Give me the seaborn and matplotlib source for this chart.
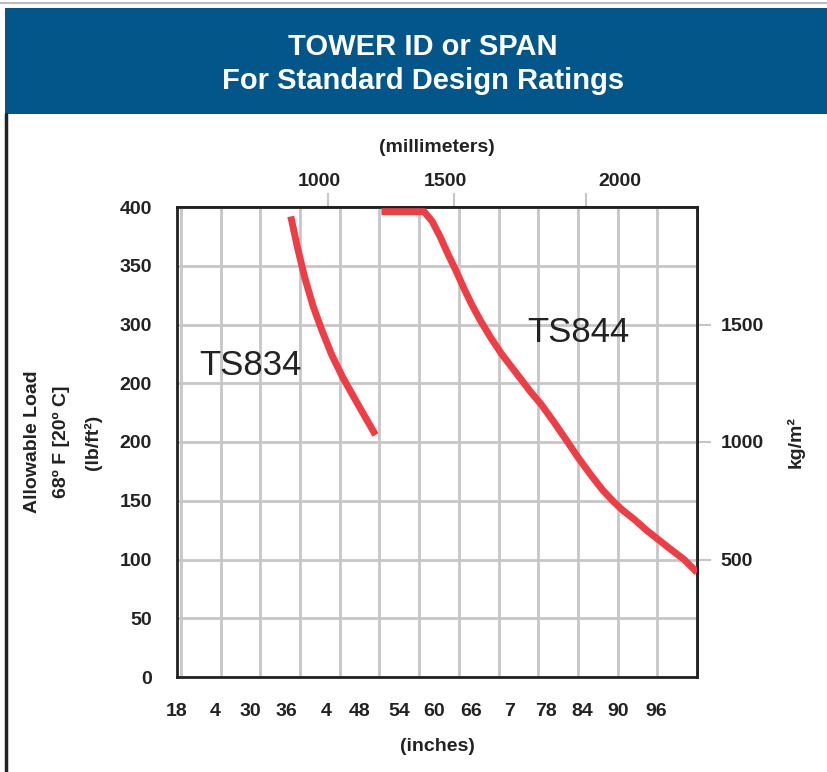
import pandas as pd
import matplotlib
matplotlib.use("Agg")
import matplotlib.pyplot as plt
from matplotlib.lines import Line2D
from matplotlib.patches import Rectangle
import seaborn as sns

# Data (span in inches, allowable load in lb/ft2)
ts834_span = [34.6, 35.55, 36.7, 37.95, 39.3, 40.8, 42.45, 44.55, 47.4]
ts834_load = [392, 367, 340, 316, 295, 274, 255, 234, 206]

ts844_span = [48.3, 54.75, 55.95, 57.15, 58.35, 59.55, 60.75, 61.95, 63.3, 64.8,
              66.45, 67.95, 69.45, 70.8, 72.45, 74.25, 76.2, 78.0, 79.95, 81.75,
              83.25, 84.75, 86.55, 88.35, 90.15, 91.95, 94.05, 96.0]
ts844_load = [396, 396, 388, 375, 360, 346, 331, 317, 303, 289,
              275, 264, 253, 243, 232, 218, 202, 187, 172, 159,
              150, 142, 134, 125, 117, 109, 100, 89]

# grid positions (inches) and the printed labels, which drift off the grid
x_grid = list(range(18, 97, 6))
x_label_pos = [17.4, 23.1, 28.5, 33.9, 39.9, 45.0, 51.0, 56.25, 61.8, 67.65,
               73.2, 78.6, 84.15, 89.85]
x_labels = ['18', '4', '30', '36', '4', '48', '54', '60', '66', '7',
            '78', '84', '90', '96']
y_ticks = list(range(0, 401, 50))
y_labels = ['0', '50', '100', '150', '200', '200', '300', '350', '400']
kg_ticks = [500, 1000, 1500]
mm_tick_pos = [40.2, 59.25, 79.2]
mm_label_pos = [38.85, 57.9, 84.3]
mm_labels = ['1000', '1500', '2000']

df = pd.concat([
    pd.DataFrame({'span': ts834_span, 'load': ts834_load, 'model': 'TS834'}),
    pd.DataFrame({'span': ts844_span, 'load': ts844_load, 'model': 'TS844'}),
])

sns.set_style("white")
plt.rcParams['font.family'] = ['Liberation Sans', 'DejaVu Sans']

RED = '#EE3E45'
BLUE = '#03568A'
GRID = '#c6c6c6'
TXT = '#222222'

fig = plt.figure(figsize=(8.28, 7.72), dpi=100)

# header band + frame
fig.add_artist(Rectangle((5 / 828, 1 - 114 / 772), 1, 106 / 772,
                         transform=fig.transFigure, color=BLUE, lw=0))
fig.add_artist(Line2D([0, 1], [1 - 3 / 772] * 2, transform=fig.transFigure,
                      color='#bbbbbb', lw=1.5))
fig.add_artist(Line2D([6.5 / 828] * 2, [0, 1 - 114 / 772], transform=fig.transFigure,
                      color=TXT, lw=2.5))
fig.text(423 / 828, 1 - 47 / 772, 'TOWER ID or SPAN', color='white',
         fontsize=21, fontweight='bold', ha='center', va='center')
fig.text(423 / 828, 1 - 81 / 772, 'For Standard Design Ratings', color='white',
         fontsize=21, fontweight='bold', ha='center', va='center')

ax = fig.add_axes([177 / 828, 1 - 677 / 772, 520 / 828, 470 / 772])

sns.lineplot(data=df, x='span', y='load', hue='model',
             palette={'TS834': RED, 'TS844': RED}, estimator=None, sort=False,
             legend=False, lw=5, solid_capstyle='butt', solid_joinstyle='round',
             ax=ax, zorder=3)

ax.set_xlim(18, 96)
ax.set_ylim(0, 400)
ax.set_xticks(x_grid, labels=[''] * len(x_grid))
ax.set_xticks(x_label_pos, labels=x_labels, minor=True)
ax.set_yticks(y_ticks, labels=y_labels)
ax.grid(True, which='major', color=GRID, lw=2)
ax.set_axisbelow(True)
for s in ax.spines.values():
    s.set_color(TXT)
    s.set_linewidth(2)

ax.tick_params(axis='x', which='major', length=8, width=1.5, color=GRID)
ax.tick_params(axis='x', which='minor', length=0, pad=19,
               labelsize=14, labelcolor=TXT)
ax.tick_params(axis='y', length=8, width=1.5, color=GRID, pad=10,
               labelsize=14, labelcolor=TXT)
for lab in ax.get_xticklabels(minor=True) + ax.get_yticklabels():
    lab.set_fontweight('bold')

ax.set_xlabel('(inches)', fontsize=14, fontweight='bold', color=TXT, labelpad=13)
ax.set_ylabel('Allowable Load\n68º F [20º C]\n(lb/ft²)', fontsize=14,
              fontweight='bold', color=TXT, linespacing=1.95)
ax.yaxis.set_label_coords(-0.145, 0.5)

ax.text(28.5, 265, 'TS834', fontsize=25, color=TXT, ha='center', va='center')
ax.text(78.0, 293, 'TS844', fontsize=25, color=TXT, ha='center', va='center')

# right axis: kg/m2
sec_y = ax.secondary_yaxis('right', functions=(lambda v: v * 5, lambda v: v / 5))
sec_y.set_yticks(kg_ticks)
sec_y.tick_params(length=10, width=1.5, color=GRID, pad=7, labelsize=14,
                  labelcolor=TXT)
for lab in sec_y.get_yticklabels():
    lab.set_fontweight('bold')
sec_y.spines['right'].set_color(TXT)
sec_y.spines['right'].set_linewidth(2)
sec_y.set_ylabel('kg/m²', fontsize=14, fontweight='bold', color=TXT, labelpad=16)

# top axis: millimeters
sec_x = ax.secondary_xaxis('top')
sec_x.set_xticks(mm_tick_pos, labels=['', '', ''])
sec_x.set_xticks(mm_label_pos, labels=mm_labels, minor=True)
sec_x.tick_params(which='major', length=10, width=1.5, color=GRID)
sec_x.tick_params(which='minor', length=0, pad=12, labelsize=14, labelcolor=TXT)
for lab in sec_x.get_xticklabels(minor=True):
    lab.set_fontweight('bold')
sec_x.spines['top'].set_color(TXT)
sec_x.spines['top'].set_linewidth(2)
sec_x.set_xlabel('(millimeters)', fontsize=14, fontweight='bold', color=TXT,
                 labelpad=15)

fig.savefig('out.png', dpi=100)
